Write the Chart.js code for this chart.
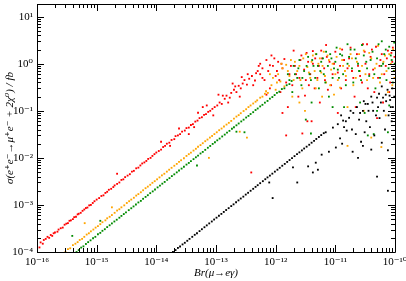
<!DOCTYPE html>
<html>
<head>
<meta charset="utf-8">
<script src="https://cdn.jsdelivr.net/npm/chart.js@4/dist/chart.umd.min.js"></script>
<style>
  html, body { margin: 0; padding: 0; background: #fff; }
  #wrap { width: 406px; height: 281px; }
</style>
</head>
<body>
<div id="wrap"><canvas id="c" width="406" height="281"></canvas></div>
<script>
// tick labels for the decades
const xPowers = [-16, -15, -14, -13, -12, -11, -10];
const xTickLabels = ['10⁻¹⁶', '10⁻¹⁵', '10⁻¹⁴', '10⁻¹³', '10⁻¹²', '10⁻¹¹', '10⁻¹⁰'];
const yPowers = [-4, -3, -2, -1, 0, 1];
const yTickLabels = ['10⁻⁴', '10⁻³', '10⁻²', '10⁻¹', '10⁰', '10¹'];

// red: band + scatter at large Br
const redPoints = [
  [1.0e-16, 1.4e-4], [1.1e-16, 1.25e-4], [1.15e-16, 1.6e-4], [1.25e-16, 1.5e-4], [1.3e-16, 1.8e-4],
  [1.4e-16, 1.9e-4], [1.5e-16, 2.1e-4], [1.6e-16, 2.0e-4], [1.7e-16, 2.3e-4], [1.8e-16, 2.2e-4],
  [1.9e-16, 2.5e-4], [2.0e-16, 2.6e-4], [2.2e-16, 2.7e-4], [2.3e-16, 3.0e-4], [2.5e-16, 3.2e-4],
  [2.7e-16, 3.3e-4], [2.9e-16, 3.8e-4], [3.1e-16, 4.0e-4], [3.3e-16, 4.1e-4], [3.5e-16, 4.6e-4],
  [3.7e-16, 4.7e-4], [4.0e-16, 5.0e-4], [4.2e-16, 5.5e-4], [4.5e-16, 5.6e-4], [4.8e-16, 6.3e-4],
  [5.0e-16, 6.5e-4], [5.4e-16, 6.8e-4], [5.8e-16, 7.5e-4], [6.2e-16, 8.0e-4], [6.6e-16, 8.6e-4],
  [7.0e-16, 8.8e-4], [7.5e-16, 9.8e-4], [8.0e-16, 1.0e-3], [8.6e-16, 1.1e-3], [9.2e-16, 1.2e-3],
  [1.0e-15, 1.3e-3], [1.1e-15, 1.4e-3], [1.2e-15, 1.55e-3], [1.3e-15, 1.6e-3], [1.4e-15, 1.8e-3],
  [1.5e-15, 1.9e-3], [1.6e-15, 2.1e-3], [1.75e-15, 2.2e-3], [1.9e-15, 2.4e-3], [2.0e-15, 2.6e-3],
  [2.2e-15, 4.6e-3], [2.2e-15, 2.8e-3], [2.4e-15, 3.0e-3], [2.6e-15, 3.4e-3], [2.8e-15, 3.5e-3],
  [3.0e-15, 3.9e-3], [3.3e-15, 4.2e-3], [3.6e-15, 4.5e-3], [3.9e-15, 5.1e-3], [4.2e-15, 5.3e-3],
  [4.6e-15, 6.0e-3], [5.0e-15, 6.2e-3], [5.4e-15, 6.9e-3], [5.8e-15, 7.6e-3], [6.3e-15, 8.0e-3],
  [6.8e-15, 8.6e-3], [7.3e-15, 9.5e-3], [8.0e-15, 1.0e-2], [8.6e-15, 1.1e-2], [9.3e-15, 1.2e-2],
  [1.0e-14, 1.3e-2], [1.1e-14, 1.4e-2], [1.2e-14, 1.5e-2], [1.2e-14, 2.2e-2], [1.3e-14, 1.7e-2],
  [1.4e-14, 1.8e-2], [1.5e-14, 2.0e-2], [1.65e-14, 2.1e-2], [1.7e-14, 1.8e-2], [1.8e-14, 2.4e-2],
  [2.0e-14, 2.5e-2], [2.1e-14, 2.9e-2], [2.3e-14, 3.0e-2], [2.4e-14, 4.2e-2], [2.5e-14, 3.2e-2],
  [2.7e-14, 3.6e-2], [3.0e-14, 3.8e-2], [3.2e-14, 4.3e-2], [3.5e-14, 4.4e-2], [3.5e-14, 3.2e-2],
  [3.8e-14, 5.0e-2], [4.1e-14, 5.2e-2], [4.3e-14, 4.5e-2], [4.5e-14, 5.9e-2], [4.9e-14, 6.2e-2],
  [5.0e-14, 9.1e-2], [5.3e-14, 7.0e-2], [5.8e-14, 7.3e-2], [6.0e-14, 1.2e-1], [6.3e-14, 8.2e-2],
  [6.8e-14, 8.5e-2], [7.0e-14, 1.3e-1], [7.4e-14, 9.5e-2], [8.0e-14, 1.0e-1], [8.7e-14, 1.1e-1],
  [9.0e-14, 8.0e-2], [9.5e-14, 1.2e-1], [1.05e-13, 1.3e-1], [1.1e-13, 2.2e-1], [1.15e-13, 1.5e-1],
  [1.25e-13, 1.4e-1], [1.3e-13, 2.1e-1], [1.4e-13, 1.8e-1], [1.5e-13, 2.1e-1], [1.6e-13, 1.5e-1],
  [1.7e-13, 1.9e-1], [1.8e-13, 2.4e-1], [1.9e-13, 3.8e-1], [2.0e-13, 2.8e-1], [2.1e-13, 3.3e-1],
  [2.2e-13, 2.5e-1], [2.4e-13, 3.4e-1], [2.5e-13, 2.0e-1], [2.6e-13, 3.0e-1], [2.7e-13, 5.2e-1],
  [2.8e-13, 3.8e-1], [3.0e-13, 4.5e-1], [3.3e-13, 3.6e-1], [3.4e-13, 6.0e-1], [3.6e-13, 4.8e-1],
  [3.9e-13, 4.9e-3], [4.0e-13, 5.5e-1], [4.2e-13, 3.5e-1], [4.5e-13, 4.4e-1], [4.7e-13, 6.3e-1],
  [5.0e-13, 7.0e-1], [5.2e-13, 9.0e-1], [5.5e-13, 6.0e-1], [5.5e-13, 1.0], [6.0e-13, 8.0e-1],
  [6e-13, 0.5], [6.5e-13, 0.45], [7e-13, 1.2], [7e-13, 0.22], [7.5e-13, 0.7], [8e-13, 0.3],
  [8e-13, 0.93], [8.5e-13, 1.5], [9e-13, 0.9], [9.5e-13, 1.3], [1.0e-12, 0.55], [1.05e-12, 0.7],
  [1.1e-12, 1.1], [1.15e-12, 0.45], [1.2e-12, 0.25], [1.25e-12, 1.0], [1.3e-12, 0.8], [1.3e-12, 0.09],
  [1.4e-12, 1.26], [1.5e-12, 0.4], [1.5e-12, 0.03], [1.6e-12, 0.12], [1.7e-12, 0.6], [1.8e-12, 0.9],
  [1.9e-12, 0.35], [2.0e-12, 1.9], [2.1e-12, 0.9], [2.2e-12, 0.6], [2.4e-12, 0.2], [2.5e-12, 0.5],
  [2.6e-12, 1.2], [2.7e-12, 1.5], [2.8e-12, 0.033], [3.0e-12, 0.75], [3.1e-12, 0.21], [3.2e-12, 0.45],
  [3.3e-12, 1.7], [3.4e-12, 0.06], [3.5e-12, 1.1], [3.6e-12, 0.35], [3.8e-12, 0.6], [4.0e-12, 0.06],
  [4.2e-12, 1.0], [4.2e-12, 1.86], [4.5e-12, 0.3], [4.6e-12, 1.3], [5.0e-12, 0.5], [5.3e-12, 0.9],
  [5.5e-12, 0.15], [5.8e-12, 1.9], [6e-12, 1.3], [6.5e-12, 0.8], [6.7e-12, 0.45], [7e-12, 2.5],
  [7.2e-12, 1.4], [7.5e-12, 0.28], [8e-12, 1.1], [8.5e-12, 0.35], [9e-12, 0.6], [9.5e-12, 1.0],
  [1.0e-11, 1.8], [1.1e-11, 0.09], [1.1e-11, 0.65], [1.2e-11, 0.9], [1.25e-11, 0.3], [1.3e-11, 2.0],
  [1.4e-11, 1.2], [1.5e-11, 0.45], [1.6e-11, 0.8], [1.7e-11, 1.3], [1.8e-11, 2.2], [1.9e-11, 0.7],
  [2.0e-11, 0.5], [2.1e-11, 0.2], [2.2e-11, 0.12], [2.3e-11, 1.6], [2.4e-11, 0.9], [2.6e-11, 0.55],
  [2.8e-11, 0.4], [2.9e-11, 2.6], [3.1e-11, 1.8], [3.2e-11, 1.0], [3.4e-11, 2.6], [3.5e-11, 0.3],
  [3.7e-11, 0.6], [3.9e-11, 1.4], [4.1e-11, 2.0], [4.3e-11, 0.75], [4.5e-11, 0.25], [4.8e-11, 2.3],
  [5.0e-11, 0.07], [5.2e-11, 0.5], [5.5e-11, 0.9], [5.7e-11, 1.2], [6.0e-11, 1.6], [6.3e-11, 0.15],
  [6.6e-11, 0.6], [7e-11, 0.9], [7.3e-11, 1.3], [7.6e-11, 1.9], [8.0e-11, 0.25], [8.3e-11, 0.4],
  [8.7e-11, 1.7], [9e-11, 1.1], [9.2e-11, 2.2], [9.6e-11, 0.7], [9.8e-11, 1.4]
];

// orange: band + scatter
const orangePoints = [
  [3.0e-16, 1.0e-4], [3.3e-16, 1.15e-4], [3.6e-16, 1.2e-4], [4.0e-16, 1.4e-4], [4.4e-16, 1.5e-4],
  [4.8e-16, 1.62e-4], [5.2e-16, 1.8e-4], [5.7e-16, 1.9e-4], [6.2e-16, 2.1e-4], [6.3e-16, 4.1e-4],
  [6.8e-16, 2.35e-4], [7.4e-16, 2.5e-4], [8.0e-16, 2.75e-4], [8.8e-16, 3.0e-4], [9.6e-16, 3.3e-4],
  [1.05e-15, 3.55e-4], [1.15e-15, 3.9e-4], [1.25e-15, 4.3e-4], [1.4e-15, 4.7e-4], [1.5e-15, 5.2e-4],
  [1.65e-15, 5.6e-4], [1.8e-15, 6.1e-4], [1.8e-15, 8.9e-4], [2.0e-15, 6.8e-4], [2.2e-15, 7.6e-4],
  [2.4e-15, 8.1e-4], [2.6e-15, 8.9e-4], [2.9e-15, 9.8e-4], [3.2e-15, 1.1e-3], [3.5e-15, 1.2e-3],
  [3.8e-15, 1.3e-3], [4.2e-15, 1.42e-3], [4.6e-15, 1.58e-3], [5.0e-15, 1.7e-3], [5.5e-15, 1.86e-3],
  [6.0e-15, 2.05e-3], [6.6e-15, 2.27e-3], [7.2e-15, 2.45e-3], [7.9e-15, 2.68e-3], [8.6e-15, 2.95e-3],
  [9.4e-15, 3.2e-3], [1.03e-14, 3.5e-3], [1.13e-14, 3.85e-3], [1.24e-14, 4.25e-3], [1.36e-14, 4.6e-3],
  [1.5e-14, 5.1e-3], [1.64e-14, 5.6e-3], [1.8e-14, 6.15e-3], [2.0e-14, 6.8e-3], [2.2e-14, 7.45e-3],
  [2.4e-14, 8.2e-3], [2.6e-14, 8.9e-3], [2.9e-14, 9.8e-3], [3.2e-14, 1.1e-2], [3.5e-14, 1.2e-2],
  [3.8e-14, 1.29e-2], [4.2e-14, 1.43e-2], [4.6e-14, 1.56e-2], [5.0e-14, 1.72e-2], [5.5e-14, 1.87e-2],
  [6.0e-14, 2.05e-2], [6.6e-14, 2.26e-2], [7.2e-14, 2.45e-2], [7.6e-14, 1.0e-2], [7.9e-14, 2.7e-2],
  [8.6e-14, 2.92e-2], [9.4e-14, 3.2e-2], [1.03e-13, 3.5e-2], [1.13e-13, 3.87e-2], [1.24e-13, 4.2e-2],
  [1.36e-13, 4.65e-2], [1.5e-13, 5.1e-2], [1.64e-13, 5.55e-2], [1.8e-13, 6.1e-2], [2.0e-13, 6.8e-2],
  [2.2e-13, 7.55e-2], [2.4e-13, 8.1e-2], [2.5e-13, 3.6e-2], [2.6e-13, 8.9e-2], [2.9e-13, 9.9e-2],
  [3.2e-13, 0.108], [3.3e-13, 2.7e-2], [3.5e-13, 0.12], [3.8e-13, 0.13], [4.2e-13, 0.143],
  [4.6e-13, 0.156], [4.9e-13, 0.167], [5.5e-13, 0.19], [6.0e-13, 0.2], [6.6e-13, 0.23],
  [6.9e-13, 0.26], [7.4e-13, 0.24], [8e-13, 0.6], [8.5e-13, 0.35], [9e-13, 0.5], [1.0e-12, 0.28],
  [1.05e-12, 0.4], [1.1e-12, 0.6], [1.2e-12, 0.42], [1.25e-12, 1.0], [1.3e-12, 0.8], [1.4e-12, 0.33],
  [1.5e-12, 0.95], [1.6e-12, 0.7], [1.7e-12, 0.55], [1.8e-12, 1.2], [1.9e-12, 0.2], [2.0e-12, 0.45],
  [2.1e-12, 1.1], [2.3e-12, 0.7], [2.5e-12, 0.9], [2.5e-12, 0.15], [2.6e-12, 0.45], [2.8e-12, 0.3],
  [2.9e-12, 1.3], [3.1e-12, 0.1], [3.2e-12, 1.6], [3.4e-12, 0.85], [3.6e-12, 0.65], [3.8e-12, 0.5],
  [4.0e-12, 1.1], [4.2e-12, 1.5], [4.5e-12, 0.7], [4.7e-12, 0.3], [4.7e-12, 1.6], [5.0e-12, 0.45],
  [5.2e-12, 1.0], [5.5e-12, 1.3], [5.8e-12, 0.65], [6e-12, 0.2], [6.1e-12, 0.9], [6.4e-12, 1.8],
  [6.7e-12, 0.55], [7e-12, 0.4], [7.4e-12, 1.5], [7.8e-12, 1.2], [8.2e-12, 0.35], [8.5e-12, 0.75],
  [9e-12, 1.0], [9.5e-12, 0.22], [1.0e-11, 0.6], [1.05e-11, 1.4], [1.1e-11, 0.45], [1.2e-11, 2.1],
  [1.2e-11, 0.31], [1.3e-11, 1.2], [1.35e-11, 0.9], [1.45e-11, 0.7], [1.5e-11, 0.55], [1.6e-11, 0.018],
  [1.6e-11, 0.12], [1.7e-11, 0.9], [1.8e-11, 1.6], [1.9e-11, 1.3], [2.0e-11, 0.35], [2.2e-11, 0.5],
  [2.3e-11, 1.1], [2.5e-11, 1.6], [2.6e-11, 0.7], [2.8e-11, 0.9], [3.0e-11, 1.9], [3.0e-11, 0.1],
  [3.2e-11, 0.6], [3.4e-11, 0.45], [3.7e-11, 1.7], [4.0e-11, 0.027], [4.0e-11, 1.3], [4.3e-11, 0.5],
  [4.6e-11, 0.8], [4.9e-11, 1.0], [5.2e-11, 2.4], [5.6e-11, 0.4], [5.9e-11, 0.017], [6e-11, 0.6],
  [6.4e-11, 1.1], [6.8e-11, 1.5], [7e-11, 0.08], [7.2e-11, 0.7], [7.6e-11, 0.25], [8.0e-11, 1.6],
  [8.5e-11, 1.0], [9e-11, 0.35], [9.3e-11, 2.0], [9.8e-11, 0.5]
];

// green: band + scatter
const greenPoints = [
  [3.9e-16, 2.2e-4], [4.6e-16, 1.0e-4], [5.0e-16, 1.1e-4], [5.5e-16, 1.24e-4], [6.0e-16, 1.32e-4],
  [6.6e-16, 1.48e-4], [7.2e-16, 1.62e-4], [7.9e-16, 1.77e-4], [8.7e-16, 1.96e-4], [9.5e-16, 2.1e-4],
  [1.05e-15, 2.38e-4], [1.15e-15, 2.55e-4], [1.15e-15, 4.6e-4], [1.25e-15, 2.82e-4], [1.37e-15, 3.05e-4],
  [1.5e-15, 3.38e-4], [1.65e-15, 3.7e-4], [1.8e-15, 4.05e-4], [1.98e-15, 4.45e-4], [2.17e-15, 4.85e-4],
  [2.4e-15, 5.35e-4], [2.6e-15, 5.85e-4], [2.85e-15, 6.4e-4], [3.1e-15, 6.95e-4], [3.45e-15, 7.75e-4],
  [3.8e-15, 8.5e-4], [4.15e-15, 9.3e-4], [4.55e-15, 1.02e-3], [5.0e-15, 1.13e-3], [5.5e-15, 1.22e-3],
  [6.0e-15, 1.35e-3], [6.6e-15, 1.48e-3], [7.2e-15, 1.61e-3], [7.9e-15, 1.78e-3], [8.7e-15, 1.94e-3],
  [9.5e-15, 2.13e-3], [1.05e-14, 2.36e-3], [1.15e-14, 2.57e-3], [1.26e-14, 2.83e-3], [1.38e-14, 3.08e-3],
  [1.52e-14, 3.42e-3], [1.66e-14, 3.71e-3], [1.82e-14, 4.1e-3], [2.0e-14, 4.47e-3], [2.2e-14, 4.92e-3],
  [2.4e-14, 5.38e-3], [2.65e-14, 5.92e-3], [2.9e-14, 6.48e-3], [3.2e-14, 7.2e-3], [3.5e-14, 7.8e-3],
  [3.8e-14, 8.52e-3], [4.2e-14, 9.4e-3], [4.6e-14, 1.03e-2], [4.8e-14, 6.9e-3], [5.0e-14, 1.12e-2],
  [5.5e-14, 1.24e-2], [6.0e-14, 1.34e-2], [6.6e-14, 1.48e-2], [7.3e-14, 1.64e-2], [8.0e-14, 1.79e-2],
  [8.8e-14, 1.98e-2], [9.6e-14, 2.15e-2], [1.05e-13, 2.36e-2], [1.15e-13, 2.57e-2], [1.27e-13, 2.85e-2],
  [1.4e-13, 3.12e-2], [1.53e-13, 3.44e-2], [1.68e-13, 3.75e-2], [1.85e-13, 4.15e-2], [2.0e-13, 4.48e-2],
  [2.2e-13, 4.92e-2], [2.2e-13, 3.6e-2], [2.4e-13, 5.38e-2], [2.65e-13, 5.95e-2], [2.9e-13, 6.48e-2],
  [3.0e-13, 3.5e-2], [3.2e-13, 7.2e-2], [3.5e-13, 7.8e-2], [3.8e-13, 8.55e-2], [4.2e-13, 9.35e-2],
  [4.6e-13, 0.104], [5.0e-13, 0.112], [5.5e-13, 0.124], [6.0e-13, 0.134], [6.6e-13, 0.149],
  [7.3e-13, 0.162], [8.0e-13, 0.181], [8.8e-13, 0.196], [9.6e-13, 0.216], [1.05e-12, 0.24],
  [1.15e-12, 0.255], [1.27e-12, 0.29], [1.4e-12, 0.3], [1.53e-12, 0.35], [1.7e-12, 0.37],
  [1.7e-12, 0.45], [1.85e-12, 0.43], [1.6e-12, 0.6], [1.9e-12, 0.25], [2.0e-12, 0.9],
  [2.1e-12, 0.6], [2.3e-12, 0.5], [2.4e-12, 0.8], [2.5e-12, 1.2], [2.7e-12, 0.35], [2.8e-12, 0.5],
  [3.0e-12, 0.7], [3.2e-12, 0.065], [3.3e-12, 0.9], [3.5e-12, 1.4], [3.7e-12, 0.6], [3.9e-12, 0.45],
  [3.9e-12, 0.033], [4.0e-12, 0.15], [4.1e-12, 1.2], [4.3e-12, 0.9], [4.6e-12, 0.5], [4.8e-12, 1.6],
  [5.1e-12, 0.9], [5.3e-12, 0.3], [5.6e-12, 0.7], [5.8e-12, 1.1], [6.2e-12, 1.3], [6.4e-12, 0.6],
  [6.8e-12, 0.4], [7e-12, 1.8], [7.5e-12, 0.9], [7.8e-12, 0.2], [8.2e-12, 1.6], [8.6e-12, 1.3],
  [9e-12, 0.5], [9e-12, 0.12], [9.5e-12, 0.8], [1.0e-11, 1.1], [1.05e-11, 2.2], [1.1e-11, 0.75],
  [1.15e-11, 0.5], [1.2e-11, 1.6], [1.3e-11, 1.5], [1.35e-11, 0.6], [1.4e-11, 0.12], [1.5e-11, 0.35],
  [1.6e-11, 1.0], [1.6e-11, 2.6], [1.7e-11, 1.4], [1.8e-11, 2.0], [1.9e-11, 0.8], [2.0e-11, 0.4],
  [2.1e-11, 2.0], [2.2e-11, 1.3], [2.4e-11, 1.0], [2.5e-11, 0.7], [2.6e-11, 0.15], [2.7e-11, 0.45],
  [2.8e-11, 2.5], [3.0e-11, 1.5], [3.1e-11, 0.09], [3.3e-11, 1.1], [3.4e-11, 0.8], [3.5e-11, 0.03],
  [3.7e-11, 0.55], [3.9e-11, 1.2], [4.2e-11, 1.8], [4.4e-11, 0.032], [4.5e-11, 0.6], [4.7e-11, 0.3],
  [5.0e-11, 1.3], [5.0e-11, 0.1], [5.3e-11, 2.6], [5.6e-11, 0.5], [5.9e-11, 0.9], [6e-11, 3.0],
  [6.3e-11, 1.0], [6.6e-11, 1.6], [7.0e-11, 2.0], [7.2e-11, 0.45], [7.6e-11, 0.035], [7.8e-11, 0.8],
  [8e-11, 2.3], [8e-11, 0.13], [8.5e-11, 1.5], [8.8e-11, 1.2], [9.2e-11, 0.4], [9.5e-11, 0.7],
  [9.7e-11, 2.8], [9.9e-11, 1.0]
];

// black: band + scatter
const blackPoints = [
  [1.9e-14, 1.0e-4], [2.1e-14, 1.1e-4], [2.3e-14, 1.22e-4], [2.5e-14, 1.31e-4], [2.75e-14, 1.45e-4],
  [3.0e-14, 1.57e-4], [3.3e-14, 1.73e-4], [3.6e-14, 1.9e-4], [4.0e-14, 2.1e-4], [4.4e-14, 2.32e-4],
  [4.8e-14, 2.5e-4], [5.3e-14, 2.78e-4], [5.8e-14, 3.05e-4], [6.4e-14, 3.36e-4], [7.0e-14, 3.68e-4],
  [7.7e-14, 4.05e-4], [8.5e-14, 4.45e-4], [9.3e-14, 4.9e-4], [1.02e-13, 5.36e-4], [1.12e-13, 5.9e-4],
  [1.23e-13, 6.45e-4], [1.35e-13, 7.1e-4], [1.48e-13, 7.8e-4], [1.63e-13, 8.55e-4], [1.8e-13, 9.45e-4],
  [1.97e-13, 1.03e-3], [2.17e-13, 1.14e-3], [2.38e-13, 1.25e-3], [2.6e-13, 1.37e-3], [2.87e-13, 1.5e-3],
  [3.15e-13, 1.66e-3], [3.45e-13, 1.81e-3], [3.8e-13, 2.0e-3], [4.2e-13, 2.2e-3], [4.6e-13, 2.42e-3],
  [5.0e-13, 2.63e-3], [5.5e-13, 2.9e-3], [6.1e-13, 3.2e-3], [6.7e-13, 3.52e-3], [7.3e-13, 3.85e-3],
  [7.8e-13, 3.0e-3], [8.0e-13, 4.2e-3], [8.8e-13, 4.62e-3], [8.9e-13, 1.4e-3], [9.7e-13, 5.1e-3],
  [1.07e-12, 5.6e-3], [1.17e-12, 6.15e-3], [1.29e-12, 6.8e-3], [1.42e-12, 7.45e-3], [1.56e-12, 8.2e-3],
  [1.71e-12, 9.0e-3], [1.88e-12, 9.9e-3], [1.95e-12, 6.3e-3], [2.07e-12, 1.09e-2], [2.28e-12, 1.2e-2],
  [2.3e-12, 3.0e-3], [2.5e-12, 1.31e-2], [2.75e-12, 1.44e-2], [3.0e-12, 1.58e-2], [3.3e-12, 1.73e-2],
  [3.5e-12, 6.6e-3], [3.65e-12, 1.9e-2], [4.0e-12, 2.1e-2], [4.2e-12, 4.9e-3], [4.4e-12, 2.3e-2],
  [4.7e-12, 7.9e-3], [4.8e-12, 2.52e-2], [5.1e-12, 5.6e-3], [5.3e-12, 2.78e-2], [5.8e-12, 3.05e-2],
  [5.9e-12, 1.17e-2], [6.4e-12, 3.35e-2], [6.9e-12, 3.5e-2], [7.8e-12, 1.35e-2], [9.1e-12, 4.4e-2],
  [1.02e-11, 1.66e-2], [1.1e-11, 5.2e-2], [1.2e-11, 2.6e-2], [1.25e-11, 8e-2], [1.3e-11, 2.0e-2],
  [1.35e-11, 6.2e-2], [1.4e-11, 4.5e-2], [1.5e-11, 6e-2], [1.55e-11, 3.8e-2], [1.7e-11, 7.1e-2],
  [1.8e-11, 0.1], [1.9e-11, 4e-2], [1.95e-11, 1.35e-2], [2.0e-11, 9.0e-2], [2.2e-11, 3.2e-2],
  [2.3e-11, 0.12], [2.4e-11, 1.0e-2], [2.5e-11, 6.5e-2], [2.6e-11, 9e-2], [2.7e-11, 2.2e-2],
  [2.9e-11, 0.1], [2.9e-11, 1.8e-2], [3.0e-11, 0.16], [3.1e-11, 3.5e-2], [3.2e-11, 0.14],
  [3.3e-11, 6e-2], [3.5e-11, 0.14], [3.6e-11, 0.1], [3.8e-11, 4.5e-2], [4.0e-11, 0.2],
  [4.0e-11, 1.5e-2], [4.2e-11, 0.15], [4.3e-11, 0.1], [4.5e-11, 3.0e-2], [4.8e-11, 8e-2],
  [5.0e-11, 0.19], [5.0e-11, 4e-3], [5.2e-11, 0.12], [5.4e-11, 0.23], [5.5e-11, 7.0e-2],
  [5.8e-11, 0.15], [6.0e-11, 0.33], [6.0e-11, 2.1e-2], [6.3e-11, 0.19], [6.5e-11, 0.1],
  [6.8e-11, 4.0e-2], [7.0e-11, 0.22], [7.1e-11, 0.16], [7.5e-11, 0.28], [7.6e-11, 1.45e-2],
  [7.6e-11, 2.0e-3], [7.8e-11, 8e-2], [8.1e-11, 0.21], [8.3e-11, 0.17], [8.5e-11, 0.12],
  [8.8e-11, 6.0e-2], [9.0e-11, 0.3], [9.0e-11, 8e-3], [9.2e-11, 0.12], [9.5e-11, 2.5e-2],
  [9.7e-11, 0.2]
];

function decadeLabel(v, powers, labels) {
  const e = Math.round(Math.log10(v));
  if (Math.abs(v / Math.pow(10, e) - 1) > 1e-6) return '';
  const i = powers.indexOf(e);
  return i < 0 ? '' : labels[i];
}

const serif = "'Liberation Serif', 'DejaVu Serif', serif";

// box with inward ticks on all four sides
const framePlugin = {
  id: 'frame',
  afterDatasetsDraw(chart) {
    const ctx = chart.ctx;
    const a = chart.chartArea;
    const xs = chart.scales.x, ys = chart.scales.y;
    ctx.save();
    ctx.strokeStyle = '#000';
    ctx.lineWidth = 1;
    ctx.beginPath();
    ctx.rect(Math.round(a.left) + 0.5, Math.round(a.top) + 0.5,
      Math.round(a.right - a.left), Math.round(a.bottom - a.top));
    ctx.stroke();
    ctx.beginPath();
    xs.ticks.forEach(t => {
      const e = Math.floor(Math.log10(t.value) + 1e-9);
      const m = t.value / Math.pow(10, e);
      if (Math.abs(m - Math.round(m)) > 1e-6) return;
      const len = Math.round(m) === 1 ? 7 : 4;
      const px = Math.round(xs.getPixelForValue(t.value)) + 0.5;
      ctx.moveTo(px, a.bottom); ctx.lineTo(px, a.bottom - len);
      ctx.moveTo(px, a.top); ctx.lineTo(px, a.top + len);
    });
    ys.ticks.forEach(t => {
      const e = Math.floor(Math.log10(t.value) + 1e-9);
      const m = t.value / Math.pow(10, e);
      if (Math.abs(m - Math.round(m)) > 1e-6) return;
      if (t.value > ys.max) return;
      const len = Math.round(m) === 1 ? 7 : 4;
      const py = Math.round(ys.getPixelForValue(t.value)) + 0.5;
      ctx.moveTo(a.left, py); ctx.lineTo(a.left + len, py);
      ctx.moveTo(a.right, py); ctx.lineTo(a.right - len, py);
    });
    ctx.stroke();
    ctx.restore();
  }
};

function ds(points, color) {
  return {
    data: points.map(p => ({ x: p[0], y: p[1] })),
    backgroundColor: color,
    borderWidth: 0,
    pointStyle: 'rect',
    pointRadius: 1.3
  };
}

new Chart(document.getElementById('c'), {
  type: 'scatter',
  data: {
    datasets: [
      ds(blackPoints, '#000000'),
      ds(greenPoints, '#008b00'),
      ds(orangePoints, '#ffa500'),
      ds(redPoints, '#ff0000')
    ]
  },
  options: {
    responsive: false,
    animation: false,
    layout: { padding: { top: 3, right: 11, left: 0, bottom: 0 } },
    plugins: { legend: { display: false }, tooltip: { enabled: false } },
    scales: {
      x: {
        type: 'logarithmic',
        min: 1e-16,
        max: 1e-10,
        grid: { display: false, drawTicks: false },
        border: { display: false },
        ticks: {
          autoSkip: false, maxRotation: 0, padding: 4, color: '#000',
          font: { family: serif, size: 11 },
          callback: v => decadeLabel(v, xPowers, xTickLabels)
        },
        title: {
          display: true, text: 'Br(μ→eγ)', color: '#000',
          font: { family: serif, size: 11, style: 'italic' },
          padding: { top: 0, bottom: 1 }
        },
        afterFit: s => { s.height = 29; s.paddingLeft = 0; s.paddingRight = 0; }
      },
      y: {
        type: 'logarithmic',
        min: 1e-4,
        max: 18.6,
        grid: { display: false, drawTicks: false },
        border: { display: false },
        ticks: {
          autoSkip: false, padding: 4, color: '#000',
          font: { family: serif, size: 11 },
          callback: v => decadeLabel(v, yPowers, yTickLabels)
        },
        title: {
          display: true, text: 'σ(e⁺e⁻→μ⁺e⁻ + 2χ⁰) / fb', color: '#000',
          font: { family: serif, size: 11, style: 'italic' },
          padding: { top: 4, bottom: 0 }
        },
        afterFit: s => { s.width = 37; s.paddingTop = 0; s.paddingBottom = 0; }
      }
    }
  },
  plugins: [framePlugin]
});
</script>
</body>
</html>
